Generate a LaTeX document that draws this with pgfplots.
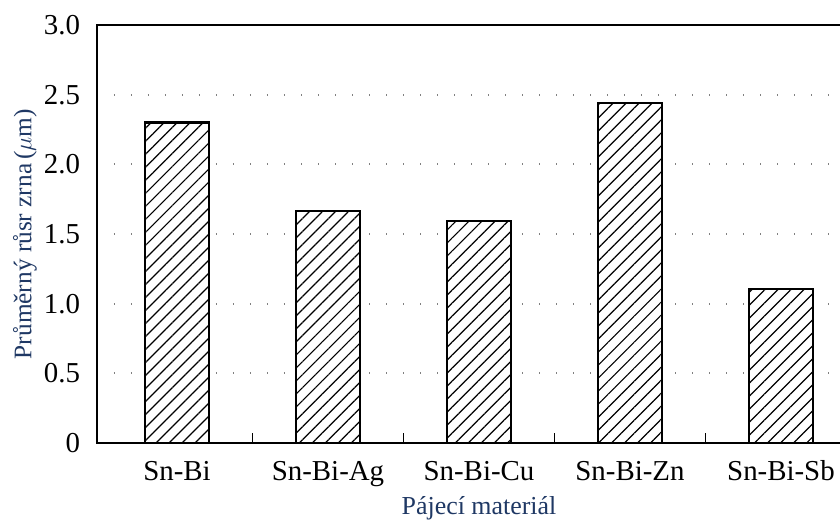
\documentclass[border=0pt]{standalone}
\usepackage{fontspec}
\setmainfont{Liberation Serif}
\usepackage{pgfplots}
\pgfplotsset{compat=1.18}
\usetikzlibrary{patterns.meta}
\definecolor{lblue}{RGB}{31,56,100}
\begin{document}
\begin{tikzpicture}
\begin{axis}[
  name=ax,
  scale only axis,
  width=382bp, height=209bp,
  xmin=-0.53, xmax=4.53, ymin=0, ymax=3,
  xtick={0,1,2,3,4},
  xticklabels={Sn-Bi,Sn-Bi-Ag,Sn-Bi-Cu,Sn-Bi-Zn,Sn-Bi-Sb},
  minor xtick={0.5,1.5,2.5,3.5},
  ytick={0,0.5,1,1.5,2,2.5,3},
  yticklabels={0,0.5,1.0,1.5,2.0,2.5,3.0},
  major tick length=0pt,
  minor tick length=5bp,
  tick align=inside,
  xtick pos=bottom, ytick pos=left,
  minor tick style={line width=0.9bp, black},
  axis line style={line width=1bp, black},
  ymajorgrids,
  grid style={gray, line width=0.9bp, dash pattern=on 0.6bp off 7.9bp},
  ticklabel style={font=\fontsize{14.5}{17}\selectfont, black},
  xticklabel style={anchor=base, yshift=-18.5bp},
  yticklabel style={anchor=east, xshift=-5bp},
  xlabel={Pájecí materiál},
  ylabel={Průměrný růsr zrna\,($\mu$m)},
  label style={text=lblue},
  xlabel style={font=\fontsize{13}{15}\selectfont, at={(axis description cs:0.5,0)}, anchor=base, yshift=-35.5bp},
  ylabel style={font=\fontsize{12.7}{15}\selectfont, at={(axis description cs:-0.0942,0.5)}, anchor=center},
  clip=false,
]
\addplot[ybar, bar width=32bp, draw=black, line width=1.2bp, fill=white,
  postaction={pattern={Lines[angle=45,distance=4.6bp,line width=0.6bp]}}]
  coordinates {(0,2.30) (1,1.665) (2,1.595) (3,2.44) (4,1.105)};
\end{axis}
\pgfresetboundingbox
\path[use as bounding box] ([xshift=-48.5bp,yshift=-39bp]ax.south west) rectangle ([xshift=371.5bp,yshift=12.5bp]ax.north west);
\end{tikzpicture}
\end{document}
